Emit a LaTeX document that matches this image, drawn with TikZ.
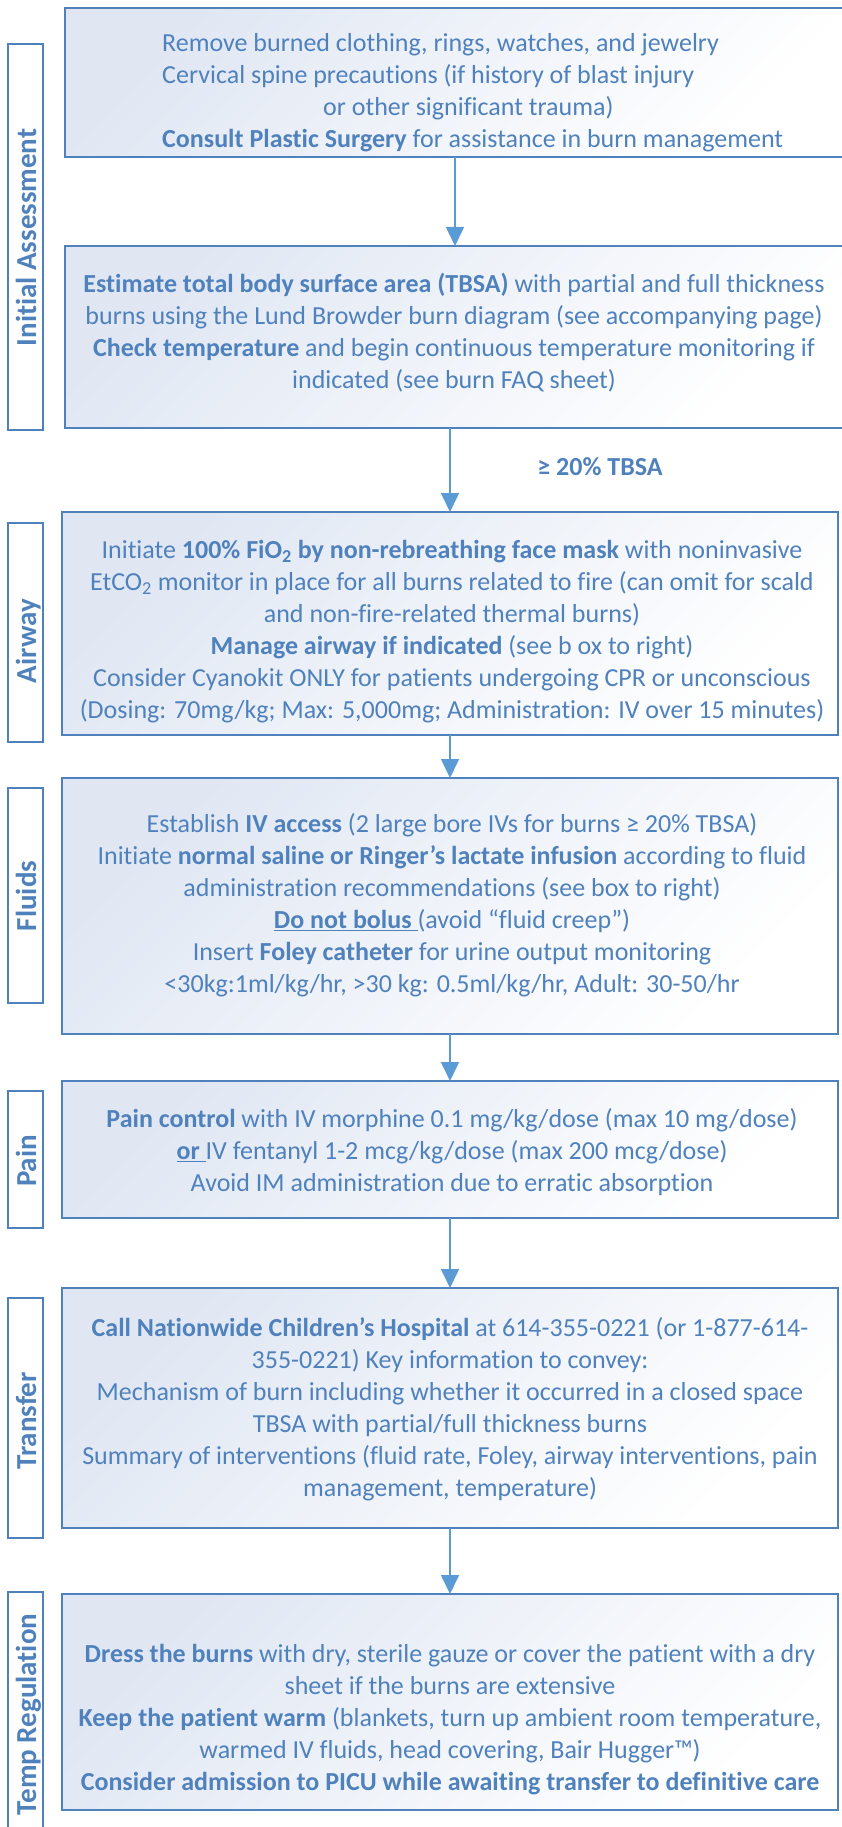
\documentclass[tikz,border=0pt]{standalone}
\usepackage{fontspec}
\setmainfont{Carlito}[Ligatures={TeX,NoCommon}]
\usetikzlibrary{arrows.meta}
\definecolor{txt}{RGB}{79,129,189}
\definecolor{brd}{RGB}{79,129,189}
\definecolor{arr}{RGB}{91,155,213}
\definecolor{shd}{RGB}{224,231,243}
\tikzset{
  mainbox/.style={draw=brd, line width=2pt, top color=shd, bottom color=white, shading angle=45, inner sep=0pt, outer sep=0pt},
  lblbox/.style={draw=brd, line width=2pt, fill=white, minimum width=35pt, inner sep=0pt, outer sep=0pt},
  lbltext/.style={rotate=90, anchor=base, font=\bfseries\fontsize{29}{30}\selectfont, text=txt, inner sep=0pt},
  body/.style={font=\fontsize{26}{32}\selectfont, text=txt, align=center, inner sep=0pt},
  flow/.style={draw=arr, line width=1.6pt, -{Triangle[width=18pt,length=19pt]}}
}
\begin{document}
\begin{tikzpicture}[x=1pt,y=-1pt]
\useasboundingbox (0,0) rectangle (841,1827);
% main boxes
\node[mainbox, minimum width=780pt, minimum height=149pt] (b1) at (455,82.5) {};
\node[mainbox, minimum width=780pt, minimum height=182pt] (b2) at (455,337) {};
\node[mainbox, minimum width=776pt, minimum height=223pt] (airway) at (450,623.5) {};
\node[mainbox, minimum width=776pt, minimum height=256pt] (fluids) at (450,906) {};
\node[mainbox, minimum width=776pt, minimum height=137pt] (pain) at (450,1149.5) {};
\node[mainbox, minimum width=776pt, minimum height=240pt] (transfer) at (450,1408) {};
\node[mainbox, minimum width=776pt, minimum height=216pt] (temp) at (450,1702) {};
% side label boxes
\node[lblbox, minimum height=386pt] (lia) at (25,237) {};
\node[lblbox, minimum height=219pt] (lair) at (25,632.5) {};
\node[lblbox, minimum height=215pt] (lflu) at (25,895.5) {};
\node[lblbox, minimum height=137pt] (lpain) at (25,1159.5) {};
\node[lblbox, minimum height=240pt] (ltr) at (25,1418) {};
\node[lblbox, minimum height=258pt] (ltemp) at (25,1721) {};
\node[lbltext] (tia) at (36,237.5) {Initial Assessment};
\node[lbltext] (tair) at (36,641) {Airway};
\node[lbltext] (tflu) at (36,896) {Fluids};
\node[lbltext] (tpain) at (36,1161) {Pain};
\node[lbltext] (ttr) at (36,1421) {Transfer};
\node[lbltext] (ttemp) at (36,1714.5) {Temp Regulation};
% texts
\node[body, align=left, anchor=west] (t1) at (162,92.5) {Remove burned clothing, rings, watches, and jewelry\\Cervical spine precautions (if history of blast injury\\\hspace*{161pt}or other significant trauma)\\\textbf{Consult Plastic Surgery} for assistance in burn management};
\node[body] (t2) at (454,332.5) {\textbf{Estimate total body surface area (TBSA)} with partial and full thickness\\burns using the Lund Browder burn diagram (see accompanying page)\\\textbf{Check temperature} and begin continuous temperature monitoring if\\indicated (see burn FAQ sheet)};
\node[body, font=\bfseries\fontsize{26}{32}\selectfont] (cond) at (600,467) {≥ 20\% TBSA};
\node[body] (t3) at (452,631.5) {Initiate \textbf{100\% FiO\textsubscript{2} by non-rebreathing face mask} with noninvasive\\EtCO\textsubscript{2} monitor in place for all burns related to fire (can omit for scald\\and non-fire-related thermal burns)\\\textbf{Manage airway if indicated} (see b ox to right)\\Consider Cyanokit ONLY for patients undergoing CPR or unconscious\\(Dosing: 70mg/kg; Max: 5,000mg; Administration: IV over 15 minutes)};
\node[body] (t4) at (452,905) {Establish \textbf{IV access} (2 large bore IVs for burns ≥ 20\% TBSA)\\Initiate \textbf{normal saline or Ringer’s lactate infusion} according to fluid\\administration recommendations (see box to right)\\\underline{\textbf{Do not bolus} }(avoid “fluid creep”)\\Insert \textbf{Foley catheter} for urine output monitoring\\<30kg:1ml/kg/hr, >30 kg: 0.5ml/kg/hr, Adult: 30-50/hr};
\node[body] (t5) at (452,1152) {\textbf{Pain control} with IV morphine 0.1 mg/kg/dose (max 10 mg/dose)\\\underline{\textbf{or} }IV fentanyl 1-2 mcg/kg/dose (max 200 mcg/dose)\\Avoid IM administration due to erratic absorption};
\node[body] (t6) at (450,1409.5) {\textbf{Call Nationwide Children’s Hospital} at 614-355-0221 (or 1-877-614-\\355-0221) Key information to convey:\\Mechanism of burn including whether it occurred in a closed space\\TBSA with partial/full thickness burns\\Summary of interventions (fluid rate, Foley, airway interventions, pain\\management, temperature)};
\node[body] (t7) at (450,1720) {\textbf{Dress the burns} with dry, sterile gauze or cover the patient with a dry\\sheet if the burns are extensive\\\textbf{Keep the patient warm} (blankets, turn up ambient room temperature,\\warmed IV fluids, head covering, Bair Hugger™)\\\textbf{Consider admission to PICU while awaiting transfer to definitive care}};
% connectors
\draw[flow] (b1.south) -- (b2.north);
\draw[flow] (b2.south -| airway.north) -- (airway.north);
\draw[flow] (airway.south) -- (fluids.north);
\draw[flow] (fluids.south) -- (pain.north);
\draw[flow] (pain.south) -- (transfer.north);
\draw[flow] (transfer.south) -- (temp.north);
\end{tikzpicture}
\end{document}
